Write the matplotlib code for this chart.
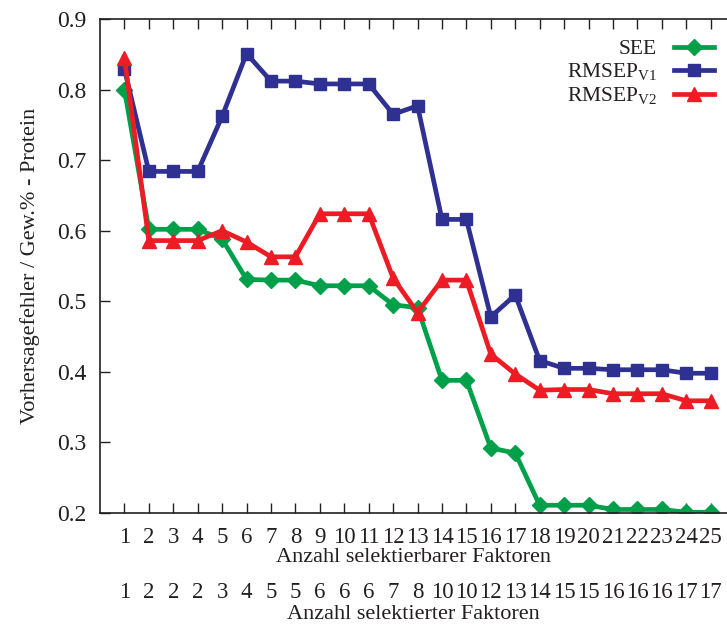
import numpy as np
import matplotlib
matplotlib.use("Agg")
import matplotlib.pyplot as plt

plt.rcParams['font.family'] = ['Liberation Serif', 'DejaVu Serif']
plt.rcParams['mathtext.fontset'] = 'custom'
plt.rcParams['mathtext.rm'] = 'Liberation Serif'

# data
faktoren = np.arange(1, 26)
selektiert = [1, 2, 2, 2, 3, 4, 5, 5, 6, 6, 6, 7, 8, 10, 10, 12, 13, 14, 15, 15,
              16, 16, 16, 17, 17]
see = [0.800, 0.602, 0.602, 0.602, 0.588, 0.531, 0.530, 0.530, 0.522, 0.522,
       0.522, 0.495, 0.491, 0.388, 0.388, 0.292, 0.285, 0.211, 0.211, 0.211,
       0.205, 0.205, 0.205, 0.201, 0.201]
rmsep_v1 = [0.829, 0.684, 0.684, 0.684, 0.762, 0.851, 0.812, 0.812, 0.808, 0.808,
            0.808, 0.765, 0.777, 0.616, 0.616, 0.478, 0.509, 0.416, 0.405, 0.405,
            0.403, 0.403, 0.403, 0.398, 0.398]
rmsep_v2 = [0.845, 0.586, 0.586, 0.586, 0.600, 0.584, 0.563, 0.563, 0.624, 0.624,
            0.624, 0.533, 0.484, 0.530, 0.530, 0.425, 0.397, 0.374, 0.375, 0.375,
            0.369, 0.369, 0.369, 0.359, 0.359]

green = '#00A04B'
blue = '#2E3192'
red = '#ED1C24'
ink = '#231F20'

fig = plt.figure(figsize=(7.27, 6.26), dpi=100)
ax = fig.add_axes([100 / 727, 1 - 513 / 626, 1 - 100 / 727, (513 - 19) / 626])

ax.plot(faktoren, see, color=green, lw=3.4, marker='D', ms=8, label='SEE')
ax.plot(faktoren, rmsep_v1, color=blue, lw=3.4, marker='s', ms=8.5,
        label=r'RMSEP$_{\mathrm{V1}}$')
ax.plot(faktoren, rmsep_v2, color=red, lw=3.4, marker='^', ms=10,
        label=r'RMSEP$_{\mathrm{V2}}$')

ax.set_xlim(0, 25.67)
ax.set_ylim(0.2, 0.9)
ax.set_xticks(faktoren)
ax.set_yticks(np.arange(0.2, 0.91, 0.1))
ax.yaxis.set_major_formatter(matplotlib.ticker.FormatStrFormatter('%.1f'))
ax.spines['right'].set_visible(False)
for s in ['left', 'top', 'bottom']:
    ax.spines[s].set_linewidth(1.2)
    ax.spines[s].set_color(ink)
ax.tick_params(axis='x', direction='in', top=True, length=7, width=1,
               labelsize=16.5, pad=10, colors=ink)
ax.tick_params(axis='y', direction='in', length=7, width=1,
               labelsize=17, pad=10, colors=ink)
ax.set_xlabel('Anzahl selektierbarer Faktoren', fontsize=16, labelpad=0,
              color=ink)
ax.set_ylabel('Vorhersagefehler / Gew.% - Protein', fontsize=16, labelpad=12,
              color=ink)

# second row: selected factors
sec = ax.secondary_xaxis(-0.14)
sec.set_xticks(faktoren)
sec.set_xticklabels([str(v) for v in selektiert])
sec.spines['bottom'].set_visible(False)
sec.tick_params(length=0, labelsize=16.5, pad=0, colors=ink)
sec.set_xlabel('Anzahl selektierter Faktoren', fontsize=16, labelpad=1,
               color=ink)

leg = ax.legend(loc='upper right', bbox_to_anchor=(1.01, 0.998), frameon=False,
                markerfirst=False, fontsize=15.5, handlelength=1.85,
                labelspacing=0.1, handletextpad=0.8)
for t in leg.get_texts():
    t.set_color(ink)

fig.savefig('out.png', dpi=100)
